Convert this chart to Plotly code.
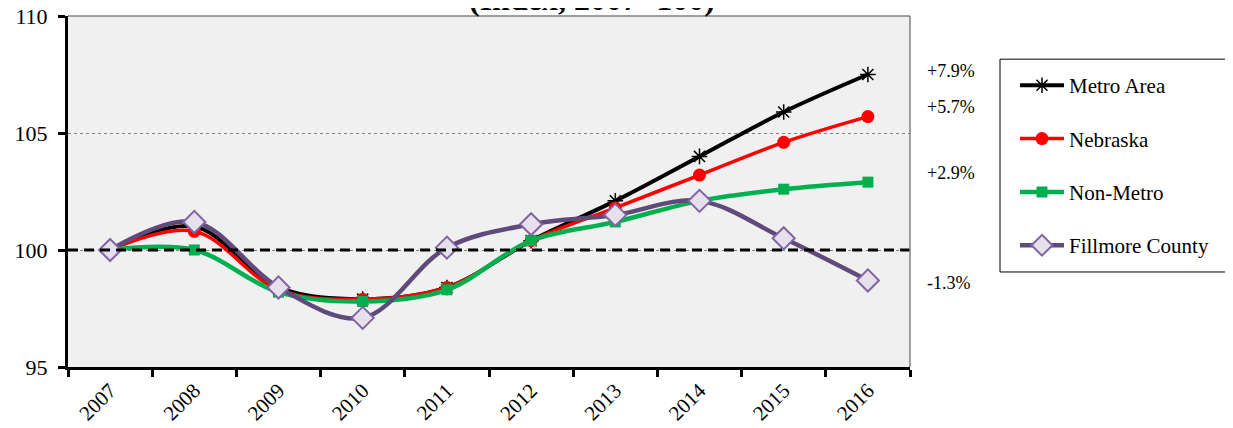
import plotly.graph_objects as go

years = ['2007', '2008', '2009', '2010', '2011', '2012', '2013', '2014', '2015', '2016']
metro = [100.0, 101.0, 98.4, 97.9, 98.4, 100.4, 102.1, 104.0, 105.9, 107.5]
nebraska = [100.0, 100.8, 98.3, 97.9, 98.4, 100.4, 101.8, 103.2, 104.6, 105.7]
non_metro = [100.0, 100.0, 98.2, 97.8, 98.3, 100.4, 101.2, 102.1, 102.6, 102.9]
fillmore = [100.0, 101.2, 98.4, 97.1, 100.1, 101.1, 101.5, 102.1, 100.5, 98.7]

end_labels = ['+7.9%', '+5.7%', '+2.9%', '-1.3%']
end_label_y = [107.65, 106.1, 103.3, 98.6]

FONT = 'Liberation Serif'

fig = go.Figure()

fig.add_trace(go.Scatter(
    x=years, y=metro, name='Metro Area', mode='lines+markers',
    line=dict(color='black', width=4, shape='spline', smoothing=1),
    marker=dict(symbol='asterisk-open', size=13, color='black', line=dict(color='black', width=1.5)),
    legendgroup='a'))
fig.add_trace(go.Scatter(
    x=years, y=nebraska, name='Nebraska', mode='lines+markers',
    line=dict(color='#ff0000', width=3.5, shape='spline', smoothing=1),
    marker=dict(symbol='circle', size=13, color='#ff0000'),
    legendgroup='b'))
fig.add_trace(go.Scatter(
    x=years, y=non_metro, name='Non-Metro', mode='lines+markers',
    line=dict(color='#00b050', width=4.5, shape='spline', smoothing=1),
    marker=dict(symbol='square', size=11, color='#00b050'),
    legendgroup='c'))
fig.add_trace(go.Scatter(
    x=years, y=fillmore, name='Fillmore County', mode='lines+markers',
    line=dict(color='#604a7b', width=4.5, shape='spline', smoothing=1),
    marker=dict(symbol='diamond', size=17, color='#e6e0ec', line=dict(color='#8064a2', width=2)),
    legendgroup='d'))

# dashed baseline at 100
fig.add_shape(type='line', xref='paper', yref='y', x0=0, x1=1, y0=100, y1=100,
              line=dict(color='black', width=3, dash='10px,6px'))
# gray frame on top and right
fig.add_shape(type='line', xref='paper', yref='paper', x0=0, x1=1, y0=1, y1=1,
              line=dict(color='#808080', width=1.5))
fig.add_shape(type='line', xref='paper', yref='paper', x0=1, x1=1, y0=0, y1=1,
              line=dict(color='#808080', width=1.5))
# legend frame, running off the right edge like the original
fig.add_shape(type='rect', xref='paper', yref='paper', x0=1.1069, x1=1.6, y0=0.2707, y1=0.877,
              line=dict(color='black', width=1), fillcolor='rgba(0,0,0,0)', layer='above')

for txt, yv in zip(end_labels, end_label_y):
    fig.add_annotation(text=txt, xref='paper', yref='y', x=1.018, y=yv,
                       xanchor='left', yanchor='middle', showarrow=False,
                       font=dict(family=FONT, size=18, color='black'))

fig.add_annotation(text='<b>(Index, 2007=100)</b>', xref='paper', yref='paper',
                   x=0.6223, y=1, yshift=-3, xanchor='center', yanchor='bottom',
                   showarrow=False, font=dict(family=FONT, size=32, color='black'))

fig.update_layout(
    width=1233, height=428,
    margin=dict(l=60, r=331, t=8, b=69),
    paper_bgcolor='white', plot_bgcolor='#f0f0f0',
    font=dict(family=FONT, color='black'),
    legend=dict(x=1.1247, y=0.860, xanchor='left', yanchor='top',
                borderwidth=0, bgcolor='rgba(0,0,0,0)',
                font=dict(family=FONT, size=21), tracegroupgap=23,
                itemwidth=44),
)
fig.update_xaxes(type='category', range=[-0.5, 9.5], tickson='boundaries',
                 ticks='outside', ticklen=7, tickwidth=3, tickcolor='black',
                 tickangle=-45, tickfont=dict(family=FONT, size=21),
                 showline=True, linecolor='black', linewidth=3, showgrid=False,
                 automargin=False, ticklabeloverflow='allow')
fig.update_yaxes(range=[95, 110], tickvals=[95, 100, 105, 110],
                 ticks='outside', ticklen=7, tickwidth=3, tickcolor='black',
                 tickfont=dict(family=FONT, size=22), ticklabelstandoff=6,
                 showline=True, linecolor='black', linewidth=3,
                 showgrid=True, gridcolor='#808080', gridwidth=1, griddash='dot',
                 zeroline=False, automargin=False, ticklabeloverflow='allow')

fig.write_html('out.html')
